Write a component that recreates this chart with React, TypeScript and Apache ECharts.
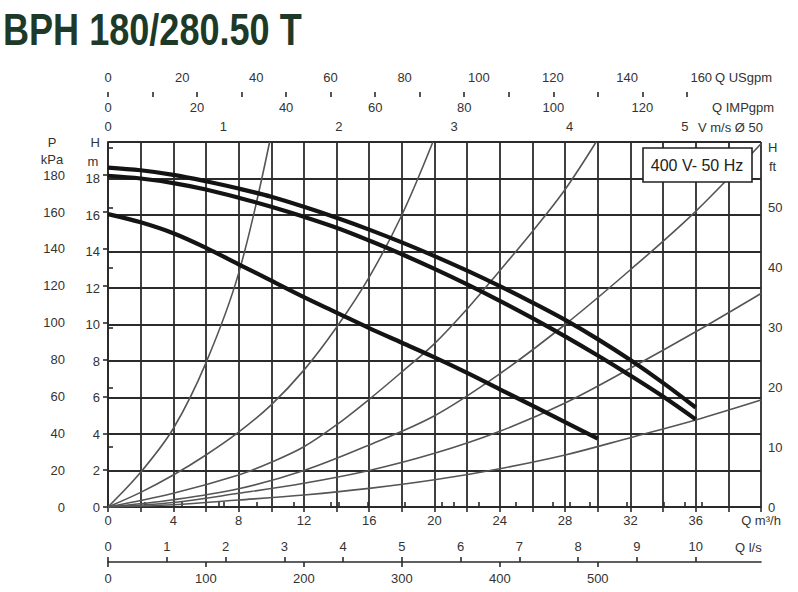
import React, { useEffect, useRef } from "react";
import * as echarts from "echarts";

// ---------- texts ----------
const TITLE = "BPH 180/280.50 T";
const SUPPLY = "400 V- 50 Hz";

// ---------- unit conversions (flow expressed in m³/h on the main axis) ----------
const Q_MAX = 40; // m³/h
const H_MAX = 20; // m
const M3H_PER_USGPM = 0.227125;
const M3H_PER_IMPGPM = 0.272765;
const M3H_PER_LS = 3.6;
const M3H_PER_LMIN = 0.06;
const M3H_PER_MS = 3600 * Math.PI * 0.025 * 0.025; // DN50 velocity
const KPA_MAX = 198; // as drawn on the left pressure scale
const FT_MAX = 61; // as drawn on the right scale

// ---------- tick labels ----------
const qLabels = [0, 4, 8, 12, 16, 20, 24, 28, 32, 36, 40];
const kpaTicks = [0, 20, 40, 60, 80, 100, 120, 140, 160, 180];
const ftTicks = [0, 10, 20, 30, 40, 50, 60];
const velTicks = [0, 1, 2, 3, 4, 5];
const usgpmTicks = [0, 10, 20, 30, 40, 50, 60, 70, 80, 90, 100, 110, 120, 130, 140, 150, 160];
const usgpmLabels = [0, 20, 40, 60, 80, 100, 120, 140, 160];
const impTicks = [0, 10, 20, 30, 40, 50, 60, 70, 80, 90, 100, 110, 120, 130];
const impLabels = [0, 20, 40, 60, 80, 100, 120];
const lsTicks = [0, 1, 2, 3, 4, 5, 6, 7, 8, 9, 10];
const lminTicks = [0, 100, 200, 300, 400, 500];

// ---------- pump curves [Q m³/h, H m] ----------
const pumpA = [[0, 18.6], [2, 18.45], [4, 18.2], [6, 17.85], [8, 17.45], [10, 17.0], [12, 16.45], [14, 15.85], [16, 15.2], [18, 14.5], [20, 13.75], [22, 12.95], [24, 12.1], [26, 11.2], [28, 10.25], [30, 9.2], [32, 8.05], [34, 6.8], [36, 5.45]];
const pumpB = [[0, 18.15], [2, 18.0], [4, 17.75], [6, 17.4], [8, 16.95], [10, 16.45], [12, 15.9], [14, 15.3], [16, 14.6], [18, 13.85], [20, 13.05], [22, 12.2], [24, 11.3], [26, 10.35], [28, 9.35], [30, 8.3], [32, 7.2], [34, 6.05], [36, 4.8]];
const pumpC = [[0, 16.05], [2, 15.6], [4, 15.0], [6, 14.2], [8, 13.3], [10, 12.4], [12, 11.5], [14, 10.65], [16, 9.8], [18, 9.0], [20, 8.2], [22, 7.35], [24, 6.45], [26, 5.55], [28, 4.65], [30, 3.75]];

// ---------- system curves [Q m³/h, H m] ----------
const sys1 = [[0, 0], [2, 1.9], [4, 4.3], [6, 7.9], [8, 12.8], [9.9, 20]];
const sys2 = [[0, 0], [2, 0.8], [4, 1.75], [6, 2.85], [8, 4.1], [10, 5.6], [12, 7.5], [14, 9.85], [16, 12.6], [18, 16.0], [19.9, 20]];
const sys3 = [[0, 0], [4, 0.75], [8, 1.75], [10, 2.45], [12, 3.3], [14, 4.5], [16, 5.9], [18, 7.4], [20, 8.95], [22, 10.85], [24, 12.95], [26, 15.1], [28, 17.4], [29.9, 20]];
const sys4 = [[0, 0], [4, 0.4], [8, 1.0], [12, 2.0], [16, 3.4], [20, 5.0], [24, 7.3], [28, 10.0], [32, 13.0], [36, 16.2], [40, 19.9]];
const sys5 = [[0, 0], [4, 0.25], [8, 0.75], [12, 1.3], [16, 2.0], [20, 2.94], [24, 4.15], [28, 5.7], [32, 7.6], [36, 9.6], [40, 11.7]];
const sys6 = [[0, 0], [4, 0.12], [8, 0.38], [12, 0.66], [16, 1.02], [20, 1.49], [24, 2.1], [28, 2.85], [32, 3.8], [36, 4.77], [40, 5.86]];

const FONT = "Liberation Sans";
const LABEL_COLOR = "#333";
const GRID_COLOR = "#2b2b2b";

const labelBase = { fontFamily: FONT, fontSize: 13, color: LABEL_COLOR };
const axisLineStyle = { color: GRID_COLOR, width: 1.6 };

export default function App() {
  const ref = useRef<HTMLDivElement>(null);

  useEffect(() => {
    document.body.style.margin = "0";
    if (!ref.current) return;
    const chart = echarts.init(ref.current, undefined, { renderer: "svg" });

    const pumpSeries = [pumpA, pumpB, pumpC].map((d, i) => ({
      type: "line",
      name: "pump" + i,
      data: d,
      smooth: 0.35,
      showSymbol: false,
      xAxisIndex: 0,
      yAxisIndex: 0,
      z: 5,
      lineStyle: { color: "#141414", width: 4.2, cap: "butt" },
    }));
    const sysSeries = [sys1, sys2, sys3, sys4, sys5, sys6].map((d, i) => ({
      type: "line",
      name: "sys" + i,
      data: d,
      smooth: 0.35,
      showSymbol: false,
      xAxisIndex: 0,
      yAxisIndex: 0,
      z: 3,
      lineStyle: { color: "#555", width: 1.6 },
    }));

    const txt = (text: string, x: number, y: number, align = "center", size = 13) => ({
      type: "text",
      x,
      y,
      z: 100,
      style: {
        text,
        font: `${size}px "${FONT}"`,
        fill: LABEL_COLOR,
        textAlign: align,
        textVerticalAlign: "middle",
      },
    });

    chart.setOption({
      animation: false,
      backgroundColor: "#fff",
      grid: { left: 108, top: 142, right: 37, bottom: 85, containLabel: false },
      xAxis: [
        {
          type: "value",
          position: "bottom",
          min: 0,
          max: Q_MAX,
          interval: 2,
          axisLine: { show: true, lineStyle: axisLineStyle },
          axisTick: { show: true, length: 5, lineStyle: axisLineStyle },
          splitLine: { show: true, lineStyle: { color: GRID_COLOR, width: 1.8 } },
          axisLabel: {
            ...labelBase,
            margin: 7,
            customValues: qLabels,
            formatter: (v: number) => (v === 40 ? "Q m³/h" : String(v)),
          },
        },
        {
          type: "value",
          position: "top",
          offset: 0,
          min: 0,
          max: Q_MAX / M3H_PER_MS,
          axisLine: { show: false },
          axisTick: { show: true, length: 5, customValues: velTicks, lineStyle: axisLineStyle },
          splitLine: { show: false },
          axisLabel: { ...labelBase, margin: 9, customValues: velTicks },
        },
        {
          type: "value",
          position: "top",
          offset: 50,
          min: 0,
          max: Q_MAX / M3H_PER_USGPM,
          axisLine: { show: true, lineStyle: axisLineStyle },
          axisTick: { show: true, length: 5, customValues: usgpmTicks, lineStyle: axisLineStyle },
          splitLine: { show: false },
          axisLabel: { ...labelBase, margin: 8, customValues: usgpmLabels },
        },
        {
          type: "value",
          position: "top",
          offset: 50,
          min: 0,
          max: Q_MAX / M3H_PER_IMPGPM,
          axisLine: { show: false },
          axisTick: { show: true, inside: true, length: 5, customValues: impTicks, lineStyle: axisLineStyle },
          splitLine: { show: false },
          axisLabel: { ...labelBase, inside: true, margin: 9, customValues: impLabels },
        },
        {
          type: "value",
          position: "bottom",
          offset: 55,
          min: 0,
          max: Q_MAX / M3H_PER_LS,
          axisLine: { show: true, lineStyle: axisLineStyle },
          axisTick: { show: true, inside: true, length: 5, customValues: lsTicks, lineStyle: axisLineStyle },
          splitLine: { show: false },
          axisLabel: { ...labelBase, inside: true, margin: 9, customValues: lsTicks },
        },
        {
          type: "value",
          position: "bottom",
          offset: 55,
          min: 0,
          max: Q_MAX / M3H_PER_LMIN,
          axisLine: { show: false },
          axisTick: { show: true, length: 5, customValues: lminTicks, lineStyle: axisLineStyle },
          splitLine: { show: false },
          axisLabel: { ...labelBase, margin: 10, customValues: lminTicks },
        },
      ],
      yAxis: [
        {
          type: "value",
          position: "left",
          min: 0,
          max: H_MAX,
          interval: 2,
          axisLine: { show: false },
          axisTick: { show: false },
          splitLine: { show: true, lineStyle: { color: GRID_COLOR, width: 1.8 } },
          axisLabel: {
            ...labelBase,
            margin: 8,
            formatter: (v: number) => (v === 20 ? "H" : String(v)),
          },
        },
        {
          type: "value",
          position: "left",
          offset: 36,
          min: 0,
          max: KPA_MAX,
          axisLine: { show: true, lineStyle: axisLineStyle },
          axisTick: { show: true, length: 5, customValues: kpaTicks, lineStyle: axisLineStyle },
          splitLine: { show: false },
          axisLabel: { ...labelBase, margin: 7, customValues: kpaTicks },
        },
        {
          type: "value",
          position: "right",
          offset: 0,
          min: 0,
          max: FT_MAX,
          axisLine: { show: true, lineStyle: axisLineStyle },
          axisTick: { show: true, length: 5, customValues: ftTicks, lineStyle: axisLineStyle },
          splitLine: { show: false },
          axisLabel: {
            ...labelBase,
            margin: 7,
            customValues: ftTicks,
            formatter: (v: number) => (v === 60 ? "H" : String(v)),
          },
        },
      ],
      graphic: [
        {
          type: "text",
          x: 3,
          y: 30,
          scaleX: 0.82,
          z: 100,
          style: {
            text: TITLE,
            font: `bold 44px "${FONT}"`,
            fill: "#1c3a27",
            textAlign: "left",
            textVerticalAlign: "middle",
          },
        },
        txt("P", 52, 142),
        txt("kPa", 52, 159),
        txt("m", 93, 161),
        txt("ft", 769, 166, "left"),
        txt("Q USgpm", 715, 77, "left"),
        txt("Q IMPgpm", 712, 107, "left"),
        txt("V m/s Ø 50", 698, 127, "left"),
        txt("Q l/s", 735, 547, "left"),
        {
          type: "rect",
          z: 100,
          shape: { x: 643, y: 148, width: 109, height: 34 },
          style: { fill: "#fff", stroke: "#222", lineWidth: 1.6 },
        },
        {
          type: "text",
          x: 697,
          y: 165,
          z: 101,
          style: {
            text: SUPPLY,
            font: `16px "${FONT}"`,
            fill: "#222",
            textAlign: "center",
            textVerticalAlign: "middle",
          },
        },
      ],
      series: [...sysSeries, ...pumpSeries],
    });

    return () => chart.dispose();
  }, []);

  return <div ref={ref} style={{ width: 798, height: 592 }} />;
}
